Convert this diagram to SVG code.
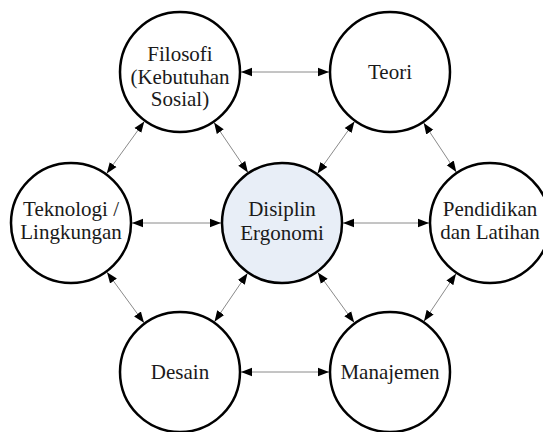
<svg xmlns="http://www.w3.org/2000/svg" width="543" height="432" viewBox="0 0 543 432">
<style>
.node circle{fill:#ffffff;stroke:#000000;stroke-width:2.5}
#n-center circle{fill:#e8eef7}
.node text{font-size:21px;fill:#1a1a1a;text-anchor:middle}
.conn line{stroke:#8a8a8a;stroke-width:1;marker-start:url(#ah);marker-end:url(#ah)}
</style>
<defs>
<marker id="ah" markerUnits="userSpaceOnUse" markerWidth="12" markerHeight="10" refX="11" refY="5" orient="auto-start-reverse">
<path d="M0,0.8 L11,5 L0,9.2 Z" fill="#000000"/>
</marker>
</defs>
<rect width="543" height="432" fill="#ffffff"/>
<g id="connectors" class="conn">
<line x1="241" y1="72" x2="329" y2="72"/>
<line x1="144.3" y1="121.5" x2="106.7" y2="173.5"/>
<line x1="214.1" y1="122.6" x2="247.9" y2="172.4"/>
<line x1="354.5" y1="121.6" x2="317.5" y2="173.4"/>
<line x1="423.7" y1="122.9" x2="456.3" y2="172.1"/>
<line x1="132" y1="223" x2="221" y2="223"/>
<line x1="343" y1="223" x2="429" y2="223"/>
<line x1="107" y1="272.2" x2="144" y2="322.8"/>
<line x1="247.5" y1="273.3" x2="214.5" y2="321.7"/>
<line x1="317.8" y1="272.4" x2="354.2" y2="322.6"/>
<line x1="456" y1="273.7" x2="424" y2="321.3"/>
<line x1="241" y1="372" x2="329" y2="372"/>
</g>
<g font-family="'Liberation Serif', 'DejaVu Serif', serif">
<g id="n-filosofi" class="node">
<circle cx="180" cy="72" r="60"/>
<text x="180" y="61">Filosofi</text>
<text x="180" y="84">(Kebutuhan</text>
<text x="180" y="106">Sosial)</text>
</g>
<g id="n-teori" class="node">
<circle cx="390" cy="72" r="60"/>
<text x="390" y="79">Teori</text>
</g>
<g id="n-teknologi" class="node">
<circle cx="71" cy="223" r="60"/>
<text x="71" y="216">Teknologi /</text>
<text x="71" y="239">Lingkungan</text>
</g>
<g id="n-center" class="node">
<circle cx="282" cy="223" r="60"/>
<text x="282" y="216">Disiplin</text>
<text x="282" y="240">Ergonomi</text>
</g>
<g id="n-pendidikan" class="node">
<circle cx="490" cy="223" r="60"/>
<text x="490" y="216">Pendidikan</text>
<text x="490" y="239">dan Latihan</text>
</g>
<g id="n-desain" class="node">
<circle cx="180" cy="372" r="60"/>
<text x="180" y="379">Desain</text>
</g>
<g id="n-manajemen" class="node">
<circle cx="390" cy="372" r="60"/>
<text x="390" y="379">Manajemen</text>
</g>
</g>
</svg>
